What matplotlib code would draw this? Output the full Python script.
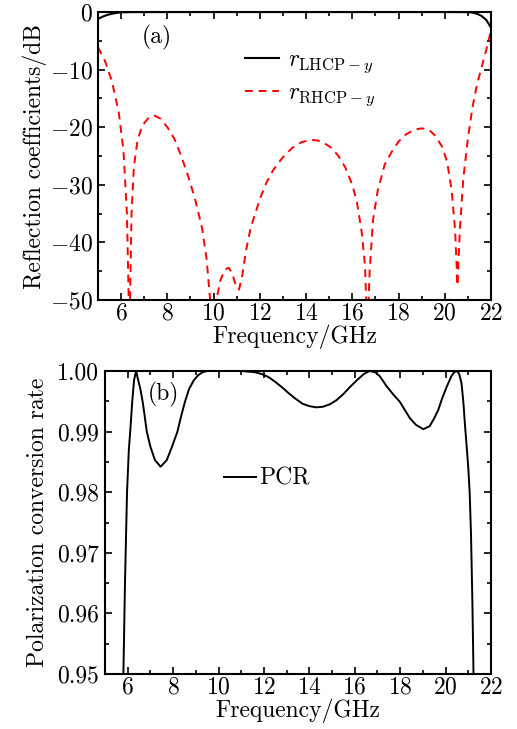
import numpy as np
import matplotlib
matplotlib.use("Agg")
import matplotlib.pyplot as plt
from matplotlib.ticker import MultipleLocator, FormatStrFormatter

plt.rcParams['font.family'] = ['cmr10', 'DejaVu Serif']
plt.rcParams['mathtext.fontset'] = 'cm'
plt.rcParams['axes.formatter.use_mathtext'] = True
plt.rcParams['font.size'] = 17

# (a) reflection coefficients
f_lhcp = [5.0, 5.2, 5.4, 5.6, 5.8, 6.0, 6.5, 10.0, 15.0, 20.0, 21.0, 21.2, 21.4, 21.6, 21.8, 22.0]
r_lhcp = [-1.2, -0.8, -0.5, -0.3, -0.15, -0.05, -0.01, 0.0, 0.0, 0.0, -0.02, -0.1, -0.3, -0.7, -1.4, -2.7]

f_rhcp = [5.0, 5.3, 5.6, 5.9, 6.1, 6.25, 6.36, 6.45, 6.55, 6.7, 6.9, 7.2, 7.45, 7.7, 8.0,
          8.3, 8.6, 8.9, 9.2, 9.5, 9.7, 9.85, 10.0, 10.12, 10.3, 10.5, 10.65, 10.8, 10.95,
          11.1, 11.25, 11.4, 11.6, 11.8, 12.0, 12.3, 12.6, 13.0, 13.4, 13.8, 14.2, 14.5,
          14.8, 15.1, 15.4, 15.7, 16.0, 16.2, 16.4, 16.55, 16.65, 16.75, 16.9, 17.1, 17.4,
          17.7, 18.0, 18.3, 18.7, 19.0, 19.3, 19.6, 19.9, 20.1, 20.3, 20.45, 20.55, 20.65,
          20.8, 21.0, 21.2, 21.4, 21.6, 21.8, 22.0]
r_rhcp = [-6.1, -8.5, -12.0, -17.5, -24.0, -35.0, -56.0, -35.0, -27.0, -22.5, -19.8, -18.3,
          -18.0, -18.5, -20.0, -22.0, -25.0, -28.5, -32.5, -37.5, -43.0, -50.0, -56.0, -50.0,
          -46.5, -44.7, -44.4, -45.3, -47.3, -48.2, -45.5, -41.5, -37.5, -35.0, -32.5, -29.5,
          -27.3, -25.2, -23.6, -22.6, -22.2, -22.3, -22.8, -23.6, -25.0, -27.0, -30.0, -33.0,
          -38.0, -44.0, -56.0, -45.0, -36.0, -31.0, -26.5, -24.3, -22.5, -21.3, -20.4, -20.2,
          -20.4, -21.5, -23.5, -26.0, -31.0, -38.0, -47.5, -38.0, -29.0, -22.0, -16.5, -12.5,
          -9.5, -6.5, -3.2]

# (b) polarization conversion rate
f_pcr = [5.78, 5.81, 5.88, 5.97, 6.05, 6.12, 6.2, 6.28, 6.37, 6.46, 6.56, 6.66, 6.75, 6.84,
         7.0, 7.2, 7.45, 7.72, 7.95, 8.19, 8.35, 8.52, 8.7, 8.9, 9.1, 9.3, 9.5, 9.8, 10.5,
         11.0, 11.3, 11.6, 11.9, 12.2, 12.5, 12.8, 13.1, 13.4, 13.7, 14.0, 14.3, 14.6, 14.9,
         15.2, 15.5, 15.8, 16.1, 16.4, 16.65, 16.9, 17.11, 17.4, 17.7, 17.99, 18.2, 18.43,
         18.7, 19.02, 19.3, 19.5, 19.68, 19.85, 20.05, 20.25, 20.38, 20.5, 20.6, 20.7, 20.78,
         20.86, 20.93, 21.0, 21.06, 21.12, 21.18, 21.23, 21.26]
pcr = [0.94, 0.95, 0.965, 0.98, 0.987, 0.9905, 0.995, 0.9985, 1.0, 0.9985, 0.997, 0.9949,
       0.9925, 0.99, 0.9875, 0.9853, 0.9842, 0.9853, 0.9875, 0.99, 0.9925, 0.9949, 0.997,
       0.9984, 0.9993, 0.9998, 1.0, 1.0, 1.0, 1.0, 0.9999, 0.9998, 0.9995, 0.999, 0.9982,
       0.9973, 0.9963, 0.9954, 0.9946, 0.9942, 0.994, 0.9941, 0.9945, 0.9952, 0.9962,
       0.9974, 0.9985, 0.9995, 1.0, 0.9998, 0.9991, 0.9975, 0.9961, 0.9949, 0.9936, 0.9922,
       0.9911, 0.9904, 0.9909, 0.9922, 0.9936, 0.9955, 0.9974, 0.9991, 0.9998, 1.0, 0.9995,
       0.998, 0.995, 0.9908, 0.9875, 0.984, 0.98, 0.973, 0.962, 0.95, 0.94]

fig = plt.figure(figsize=(5.17, 7.29), dpi=100)
ax1 = fig.add_axes([0.1896, 0.5885, 0.7601, 0.395])
ax2 = fig.add_axes([0.2031, 0.0754, 0.7466, 0.4157])


def style(ax):
    ax.tick_params(which='both', direction='in', top=True, right=True, width=1.2)
    ax.tick_params(which='major', length=5)
    ax.tick_params(which='minor', length=3)
    ax.tick_params(axis='x', pad=2)
    ax.tick_params(axis='y', pad=4)
    for s in ax.spines.values():
        s.set_linewidth(1.5)
    ax.xaxis.set_major_locator(MultipleLocator(2))
    ax.xaxis.set_minor_locator(MultipleLocator(1))
    ax.set_xlim(5, 22)
    ax.set_xlabel('Frequency/GHz', labelpad=0)


ax1.plot(f_lhcp, r_lhcp, color='black', lw=1.5, label=r'$r_{\rm LHCP-\mathit{y}}$')
ax1.plot(f_rhcp, r_rhcp, color='red', lw=1.4, ls=(0, (4, 3)), label=r'$r_{\rm RHCP-\mathit{y}}$')
ax1.set_ylim(-50, 0)
ax1.yaxis.set_major_locator(MultipleLocator(10))
ax1.yaxis.set_minor_locator(MultipleLocator(5))
ax1.set_ylabel('Reflection coefficients/dB', labelpad=2)
style(ax1)
ax1.text(7.55, -4.5, '(a)', ha='center', va='center')
ax1.legend(loc='upper left', bbox_to_anchor=(0.32, 0.945), frameon=False,
           handlelength=1.45, handletextpad=0.35, labelspacing=0.3)

ax2.plot(f_pcr, pcr, color='black', lw=1.4, label='PCR')
ax2.set_ylim(0.95, 1.0)
ax2.yaxis.set_major_locator(MultipleLocator(0.01))
ax2.yaxis.set_minor_locator(MultipleLocator(0.005))
ax2.yaxis.set_major_formatter(FormatStrFormatter('%.2f'))
ax2.set_ylabel('Polarization conversion rate', labelpad=6)
style(ax2)
ax2.text(7.57, 0.9962, '(b)', ha='center', va='center')
ax2.legend(loc='center left', bbox_to_anchor=(0.254, 0.644), frameon=False,
           handlelength=1.36, handletextpad=0.1)

fig.savefig('out.png', dpi=100)
